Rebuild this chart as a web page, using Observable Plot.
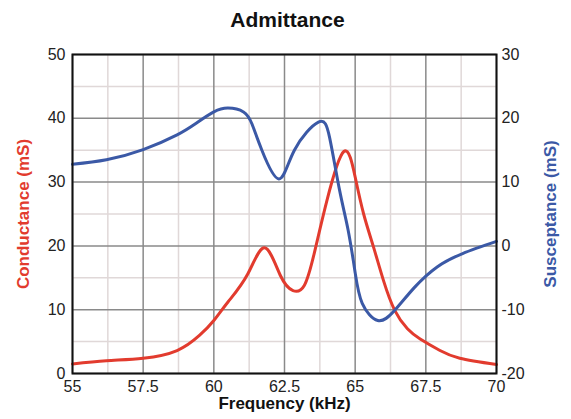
<!DOCTYPE html>
<html>
<head>
<meta charset="utf-8">
<script src="https://cdn.jsdelivr.net/npm/d3@7"></script>
<script src="https://cdn.jsdelivr.net/npm/@observablehq/plot@0.6"></script>
<style>
  html, body { margin: 0; padding: 0; background: #fff; }
  #title { font-family: "Liberation Sans", Arial, sans-serif; font-weight: bold; font-size: 21px; color: #111;
           height: 36px; line-height: 40px; width: 571px; text-align: center; box-sizing: border-box; padding-left: 4px; }
</style>
</head>
<body>
<div id="title">Admittance</div>
<div id="chart"></div>
<script>
// Conductance (mS) vs frequency (kHz)
const condFreq = [55, 56.2, 57.5, 58.7, 59.5, 60, 60.5, 61.2, 61.8, 62.35, 62.8, 63.2, 63.55, 64.0, 64.6, 65.0, 65.3, 65.65, 66.0, 66.4, 66.85, 67.3, 68, 68.7, 70];
const condVal  = [1.5, 2.0, 2.4, 3.6, 6.0, 8.3, 11.2, 15.6, 19.7, 15.4, 13.0, 13.8, 18.8, 27.1, 34.8, 30.8, 25.0, 19.8, 14.6, 9.9, 7.0, 5.4, 3.6, 2.4, 1.4];
// Susceptance (mS) vs frequency (kHz)
const suscFreq = [55, 56.2, 57.5, 58.7, 59.4, 60.0, 60.5, 61.05, 61.35, 61.7, 62.3, 62.85, 63.7, 64.1, 64.45, 64.75, 65.0, 65.25, 65.8, 66.4, 67.1, 67.9, 68.8, 70];
const suscVal  = [12.8, 13.5, 15.1, 17.4, 19.3, 21.0, 21.6, 21.0, 19.1, 15.0, 10.5, 15.0, 19.4, 16.9, 8.7, 2.5, -4.2, -9.0, -11.7, -10.1, -6.5, -3.3, -1.2, 0.7];

const xTicks = [55, 57.5, 60, 62.5, 65, 67.5, 70];
const xMinor = [56.25, 58.75, 61.25, 63.75, 66.25, 68.75];
const yLeftTicks = [0, 10, 20, 30, 40, 50];
const yMinor = [5, 15, 25, 35, 45];
const yRightTicks = [-20, -10, 0, 10, 20, 30];

const rightOffset = 20; // right axis -20..30 mapped onto left 0..50

const cond = condFreq.map((f, i) => ({f, v: condVal[i]}));
const susc = suscFreq.map((f, i) => ({f, v: suscVal[i]}));

const red = "#e23b2e";
const blue = "#3b59a6";

const chart = Plot.plot({
  width: 571,
  height: 383,
  marginTop: 18,
  marginBottom: 46,
  marginLeft: 72,
  marginRight: 75,
  style: {fontFamily: "Liberation Sans, Arial, sans-serif", fontSize: "16px", color: "#222", background: "#fff"},
  x: {domain: [55, 70]},
  y: {domain: [0, 50]},
  marks: [
    Plot.gridX(xMinor, {stroke: "#e0d8d8", strokeOpacity: 1, strokeWidth: 1.5}),
    Plot.gridY(yMinor, {stroke: "#e0d8d8", strokeOpacity: 1, strokeWidth: 1.5}),
    Plot.gridX(xTicks, {stroke: "#8a8a8a", strokeOpacity: 1, strokeWidth: 1.5}),
    Plot.gridY(yLeftTicks, {stroke: "#8a8a8a", strokeOpacity: 1, strokeWidth: 1.5}),
    Plot.axisX(xTicks, {anchor: "bottom", tickSize: 0, tickPadding: 7, tickFormat: d => String(d),
      label: "Frequency (kHz)", labelAnchor: "center", labelArrow: "none", labelOffset: 35}),
    Plot.axisY(yLeftTicks, {anchor: "left", tickSize: 0, tickPadding: 7, tickFormat: d => String(d),
      label: "Conductance (mS)", labelAnchor: "center", labelArrow: "none", labelOffset: 56}),
    Plot.axisY(yLeftTicks, {anchor: "right", tickSize: 0, tickPadding: 5,
      tickFormat: d => String(d - rightOffset),
      label: "Susceptance (mS)", labelAnchor: "center", labelArrow: "none", labelOffset: 59}),
    Plot.line(cond, {x: "f", y: "v", stroke: red, strokeWidth: 3, curve: "natural"}),
    Plot.line(susc, {x: "f", y: d => d.v + rightOffset, stroke: blue, strokeWidth: 3, curve: "natural"}),
    Plot.frame({stroke: "#111", strokeWidth: 2})
  ]
});

document.getElementById("chart").appendChild(chart);

// style axis labels
const svg = d3.select(chart);
svg.selectAll('[aria-label="y-axis label"]').each(function(d, i) {
  d3.select(this).attr("font-weight", "bold").attr("font-size", "17px").attr("fill", i === 0 ? red : blue);
});
svg.selectAll('[aria-label="x-axis label"]').attr("font-weight", "bold").attr("font-size", "17px").attr("fill", "#111");
</script>
</body>
</html>
